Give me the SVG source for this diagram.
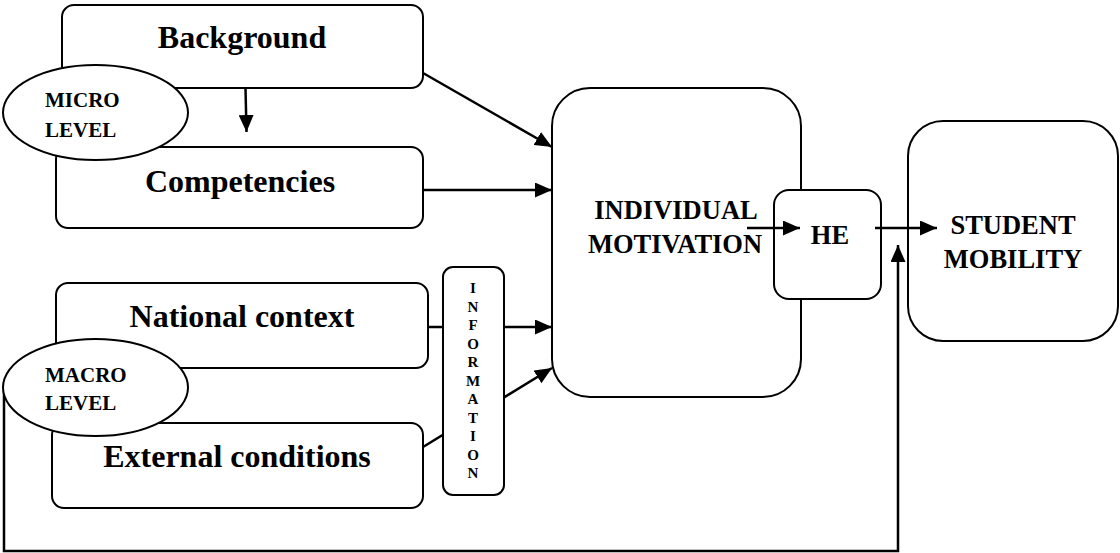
<svg xmlns="http://www.w3.org/2000/svg" width="1120" height="553" viewBox="0 0 1120 553">
<style>
.box{fill:#fff;stroke:#000;stroke-width:2}
.t{font-family:"Liberation Serif","Times New Roman",serif;font-weight:bold;fill:#000}
.big{font-size:32px}
.mid{font-size:26.5px}
.sm{font-size:21px}
.info{font-size:15px}
.ln{fill:none;stroke:#000;stroke-width:2.5}
</style>
<defs>
<marker id="ah" markerUnits="userSpaceOnUse" markerWidth="17" markerHeight="15" refX="17" refY="7.5" orient="auto">
<path d="M0,0 L17,7.5 L0,15 z" fill="#000"/>
</marker>
</defs>
<g id="background"><rect class="box" x="62" y="5" width="361" height="83" rx="12"/><text class="t big" x="242" y="48" text-anchor="middle">Background</text></g>
<g id="competencies"><rect class="box" x="56" y="147" width="367" height="81" rx="12"/><text class="t big" x="240" y="192" text-anchor="middle">Competencies</text></g>
<g id="national"><rect class="box" x="56" y="283" width="372" height="85" rx="12"/><text class="t big" x="242" y="327" text-anchor="middle">National context</text></g>
<g id="external"><rect class="box" x="52" y="423" width="371" height="85" rx="12"/><text class="t big" x="237" y="467" text-anchor="middle">External conditions</text></g>
<g id="motivation"><rect class="box" x="552" y="88" width="249" height="309" rx="38"/><text class="t mid" x="676" y="219" text-anchor="middle">INDIVIDUAL</text><text class="t mid" x="675" y="253" text-anchor="middle">MOTIVATION</text></g>
<g id="he"><rect class="box" x="774" y="190" width="107" height="109" rx="15"/><text class="t mid" x="830" y="244" text-anchor="middle">HE</text></g>
<g id="mobility"><rect class="box" x="908" y="121" width="210" height="220" rx="35"/><text class="t mid" x="1013" y="234" text-anchor="middle">STUDENT</text><text class="t mid" x="1013" y="268" text-anchor="middle">MOBILITY</text></g>
<g id="connectors">
<line class="ln" x1="245.5" y1="88" x2="246.5" y2="132" marker-end="url(#ah)"/>
<line class="ln" x1="423" y1="73" x2="552" y2="147" marker-end="url(#ah)"/>
<line class="ln" x1="423" y1="190" x2="552" y2="190" marker-end="url(#ah)"/>
<line class="ln" x1="428" y1="327" x2="552" y2="327" marker-end="url(#ah)"/>
<line class="ln" x1="423" y1="447" x2="552" y2="368" marker-end="url(#ah)"/>
<line class="ln" x1="747" y1="228" x2="800" y2="228" marker-end="url(#ah)"/>
<line class="ln" x1="875" y1="228" x2="937" y2="228" marker-end="url(#ah)"/>
<polyline class="ln" points="4,390 4,551 898,551 898,245" marker-end="url(#ah)"/>
</g>
<g id="information"><rect class="box" x="443" y="267" width="61" height="228" rx="10"/>
<g class="t info" text-anchor="middle">
<text x="473" y="293">I</text><text x="473" y="311.5">N</text><text x="473" y="330">F</text><text x="473" y="348.5">O</text><text x="473" y="367">R</text><text x="473" y="385.5">M</text><text x="473" y="404">A</text><text x="473" y="422.5">T</text><text x="473" y="441">I</text><text x="473" y="459.5">O</text><text x="473" y="478">N</text>
</g></g>
<g id="micro"><ellipse class="box" cx="95.5" cy="112.5" rx="92.5" ry="47.5"/><text class="t sm" x="45" y="107">MICRO</text><text class="t sm" x="45" y="137">LEVEL</text></g>
<g id="macro"><ellipse class="box" cx="95.5" cy="387.5" rx="92.5" ry="48.5"/><text class="t sm" x="45" y="382">MACRO</text><text class="t sm" x="45" y="410">LEVEL</text></g>
</svg>
